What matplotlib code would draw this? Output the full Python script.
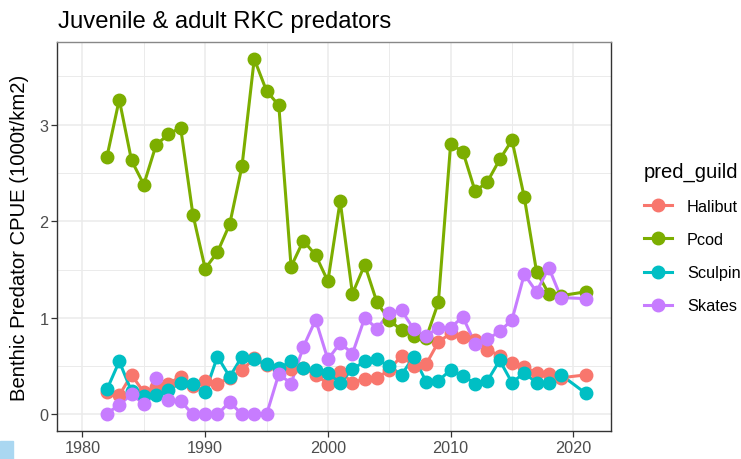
import matplotlib
matplotlib.use('Agg')
import matplotlib.pyplot as plt
from matplotlib.lines import Line2D
from matplotlib.patches import Rectangle


# Data
years = list(range(1982, 2020)) + [2021]

halibut = [0.23, 0.20, 0.41, 0.23, 0.28, 0.32, 0.39, 0.30, 0.35, 0.32,
           0.38, 0.46, 0.58, 0.51, 0.47, 0.47, 0.48, 0.41, 0.32, 0.44,
           0.33, 0.37, 0.38, 0.46, 0.61, 0.50, 0.52, 0.75, 0.84, 0.80,
           0.77, 0.67, 0.61, 0.53, 0.49, 0.43, 0.42, 0.38, 0.41]

pcod = [2.67, 3.26, 2.63, 2.38, 2.79, 2.90, 2.97, 2.07, 1.51, 1.68,
        1.97, 2.57, 3.68, 3.35, 3.20, 1.53, 1.80, 1.65, 1.38, 2.21,
        1.25, 1.55, 1.16, 0.98, 0.87, 0.81, 0.79, 1.16, 2.80, 2.72,
        2.31, 2.41, 2.64, 2.84, 2.25, 1.48, 1.25, 1.23, 1.27]

sculpin = [0.26, 0.55, 0.24, 0.19, 0.20, 0.25, 0.33, 0.32, 0.23, 0.60,
           0.39, 0.60, 0.57, 0.52, 0.48, 0.55, 0.48, 0.46, 0.43, 0.33,
           0.47, 0.55, 0.57, 0.50, 0.41, 0.60, 0.34, 0.35, 0.46, 0.40,
           0.32, 0.35, 0.56, 0.33, 0.43, 0.33, 0.33, 0.41, 0.22]

skates = [0.01, 0.10, 0.21, 0.11, 0.38, 0.15, 0.14, 0.00, 0.00, 0.00,
          0.13, 0.00, 0.00, 0.00, 0.42, 0.32, 0.70, 0.98, 0.57, 0.74,
          0.63, 1.00, 0.89, 1.05, 1.08, 0.88, 0.81, 0.90, 0.90, 1.01,
          0.73, 0.78, 0.86, 0.98, 1.45, 1.27, 1.52, 1.21, 1.20]

guilds = ['Halibut', 'Pcod', 'Sculpin', 'Skates']
series = [halibut, pcod, sculpin, skates]
colors = ['#F8766D', '#7CAE00', '#00BFC4', '#C77CFF']


# Plotting
plt.rcParams['font.family'] = ['Liberation Sans', 'DejaVu Sans']

fig = plt.figure(figsize=(7.41, 4.6), dpi=100)
ax = fig.add_axes([0.0773, 0.0602, 0.7473, 0.8474])

# lines first, then points on top (like geom_line + geom_point)
for vals, c in zip(series, colors):
    ax.plot(years, vals, color=c, lw=2.2, zorder=2)
for vals, c in zip(series, colors):
    ax.plot(years, vals, color=c, lw=0, marker='o', markersize=9, zorder=3)

ax.set_xlim(1977.95, 2023.07)
ax.set_ylim(-0.174, 3.861)
ax.set_xticks([1980, 1990, 2000, 2010, 2020])
ax.set_xticks([1985, 1995, 2005, 2015], minor=True)
ax.set_yticks([0, 1, 2, 3])
ax.set_yticks([0.5, 1.5, 2.5, 3.5], minor=True)

ax.grid(True, which='major', color='#EBEBEB', lw=1.1, zorder=0)
ax.grid(True, which='minor', color='#EBEBEB', lw=0.7, zorder=0)
ax.set_axisbelow(True)

ax.tick_params(which='major', direction='out', length=4, width=0.9,
               color='#333333', labelcolor='#4D4D4D', labelsize=11.7, pad=2.5)
ax.tick_params(which='minor', length=0)
for side in ['left', 'bottom', 'right']:
    ax.spines[side].set_color('#333333')
    ax.spines[side].set_linewidth(1.0)
ax.spines['top'].set_color('#888888')
ax.spines['top'].set_linewidth(1.0)

ax.set_ylabel('Benthic Predator CPUE (1000t/km2)', fontsize=14.6, labelpad=7)
fig.text(0.078, 0.939, 'Juvenile & adult RKC predators', fontsize=17.2,
         ha='left', va='baseline')

handles = [Line2D([], [], color=c, lw=2.2, marker='o', markersize=9) for c in colors]
ax.legend(handles, guilds, title='pred_guild', loc='upper left',
          bbox_to_anchor=(0.869, 0.647), bbox_transform=fig.transFigure,
          frameon=False, fontsize=11.7, title_fontsize=14.6,
          handlelength=1.7, handletextpad=0.95, labelspacing=1.12,
          alignment='left', borderpad=0, borderaxespad=0)

# light blue corner of the screenshot
fig.patches.append(Rectangle((0, 0), 13 / 741, 18 / 460, transform=fig.transFigure,
                             color='#aad7f1', zorder=0))

fig.savefig('out.png', dpi=100)
